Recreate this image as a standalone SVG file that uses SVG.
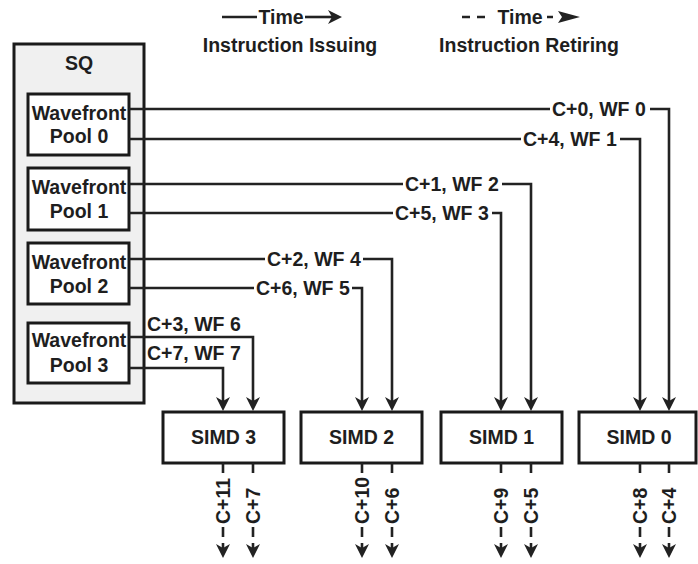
<svg xmlns="http://www.w3.org/2000/svg" width="698" height="564" viewBox="0 0 698 564">
<style>
text{font-family:"Liberation Sans",Arial,sans-serif;font-weight:bold;font-size:19.5px;fill:#1e1e1e}
.c{text-anchor:middle}
.box{fill:#fff;stroke:#1a1a1a;stroke-width:3}
.ln{fill:none;stroke:#222;stroke-width:2.6}
.ar{marker-end:url(#arr)}
.ds{stroke-dasharray:10 6}
.bg{fill:#fff}
</style>
<defs>
<marker id="arr" viewBox="0 0 14 14" refX="4" refY="7" markerWidth="14" markerHeight="14" markerUnits="userSpaceOnUse" orient="auto">
<path d="M0,0 L14,7 L0,14 L4,7 z" fill="#222"/>
</marker>
</defs>
<g id="legend">
<path class="ln" d="M222,17 H257"/>
<text x="281" y="24" class="c">Time</text>
<path class="ln ar" d="M305,17 H332"/>
<text x="290" y="52" class="c">Instruction Issuing</text>
<path class="ln" d="M462,17 H470 M477,17 H485 M547,17 H553"/>
<path d="M558,11 L580,17 L558,23 L562,17 z" fill="#222"/>
<text x="520" y="24" class="c">Time</text>
<text x="529" y="52" class="c">Instruction Retiring</text>
</g>
<g id="SQ">
<rect x="14" y="44" width="130" height="359" fill="#f0f0f0" stroke="#1a1a1a" stroke-width="3"/>
<text x="79" y="70" class="c">SQ</text>
</g>
<g id="pool0">
<rect class="box" x="28" y="94" width="101" height="61"/>
<text x="79" y="120" class="c">Wavefront</text>
<text x="79" y="143" class="c">Pool 0</text>
</g>
<g id="pool1">
<rect class="box" x="28" y="168" width="101" height="62"/>
<text x="79" y="194" class="c">Wavefront</text>
<text x="79" y="218" class="c">Pool 1</text>
</g>
<g id="pool2">
<rect class="box" x="28" y="243" width="101" height="61"/>
<text x="79" y="269" class="c">Wavefront</text>
<text x="79" y="293" class="c">Pool 2</text>
</g>
<g id="pool3">
<rect class="box" x="28" y="323" width="101" height="60"/>
<text x="79" y="347" class="c">Wavefront</text>
<text x="79" y="372" class="c">Pool 3</text>
</g>
<g id="simd3">
<rect class="box" x="163" y="412" width="121" height="51"/>
<text x="223.5" y="444" class="c">SIMD 3</text>
</g>
<g id="simd2">
<rect class="box" x="301" y="412" width="121" height="51"/>
<text x="361.5" y="444" class="c">SIMD 2</text>
</g>
<g id="simd1">
<rect class="box" x="441" y="412" width="121" height="51"/>
<text x="501.5" y="444" class="c">SIMD 1</text>
</g>
<g id="simd0">
<rect class="box" x="579" y="412" width="117" height="51"/>
<text x="639" y="444" class="c">SIMD 0</text>
</g>
<g id="connectors">
<path class="ln" d="M129,109 H550"/>
<text x="552" y="116">C+0, WF 0</text>
<path class="ln ar" d="M650,109 H669 V401"/>
<path class="ln" d="M129,139 H521"/>
<text x="523" y="146">C+4, WF 1</text>
<path class="ln ar" d="M620,139 H640 V401"/>
<path class="ln" d="M129,184 H403"/>
<text x="405" y="191">C+1, WF 2</text>
<path class="ln ar" d="M502,184 H531 V401"/>
<path class="ln" d="M129,213 H393"/>
<text x="395" y="220">C+5, WF 3</text>
<path class="ln ar" d="M492,213 H501 V401"/>
<path class="ln" d="M129,259 H265"/>
<text x="267" y="266">C+2, WF 4</text>
<path class="ln ar" d="M363,259 H392 V401"/>
<path class="ln" d="M129,288 H254"/>
<text x="256" y="295">C+6, WF 5</text>
<path class="ln ar" d="M352,288 H362 V401"/>
<text x="147" y="331">C+3, WF 6</text>
<path class="ln ar" d="M129,337 H253 V401"/>
<text x="147" y="360">C+7, WF 7</text>
<path class="ln ar" d="M129,368 H223 V401"/>
<g id="retire">
<path class="ln ds ar" d="M223,463 V548"/>
<path class="ln ds ar" d="M253,463 V548"/>
<path class="ln ds ar" d="M362,463 V548"/>
<path class="ln ds ar" d="M392,463 V548"/>
<path class="ln ds ar" d="M501,463 V548"/>
<path class="ln ds ar" d="M531,463 V548"/>
<path class="ln ds ar" d="M640,463 V548"/>
<path class="ln ds ar" d="M669,463 V548"/>
<rect class="bg" x="214" y="476" width="18" height="50"/>
<rect class="bg" x="244" y="476" width="18" height="50"/>
<rect class="bg" x="353" y="476" width="18" height="50"/>
<rect class="bg" x="383" y="476" width="18" height="50"/>
<rect class="bg" x="492" y="476" width="18" height="50"/>
<rect class="bg" x="522" y="476" width="18" height="50"/>
<rect class="bg" x="631" y="476" width="18" height="50"/>
<rect class="bg" x="660" y="476" width="18" height="50"/>
<text transform="translate(230,524) rotate(-90)">C+11</text>
<text transform="translate(260,524) rotate(-90)">C+7</text>
<text transform="translate(369,524) rotate(-90)">C+10</text>
<text transform="translate(399,524) rotate(-90)">C+6</text>
<text transform="translate(508,524) rotate(-90)">C+9</text>
<text transform="translate(538,524) rotate(-90)">C+5</text>
<text transform="translate(647,524) rotate(-90)">C+8</text>
<text transform="translate(676,524) rotate(-90)">C+4</text>
</g>
</g>
</svg>
